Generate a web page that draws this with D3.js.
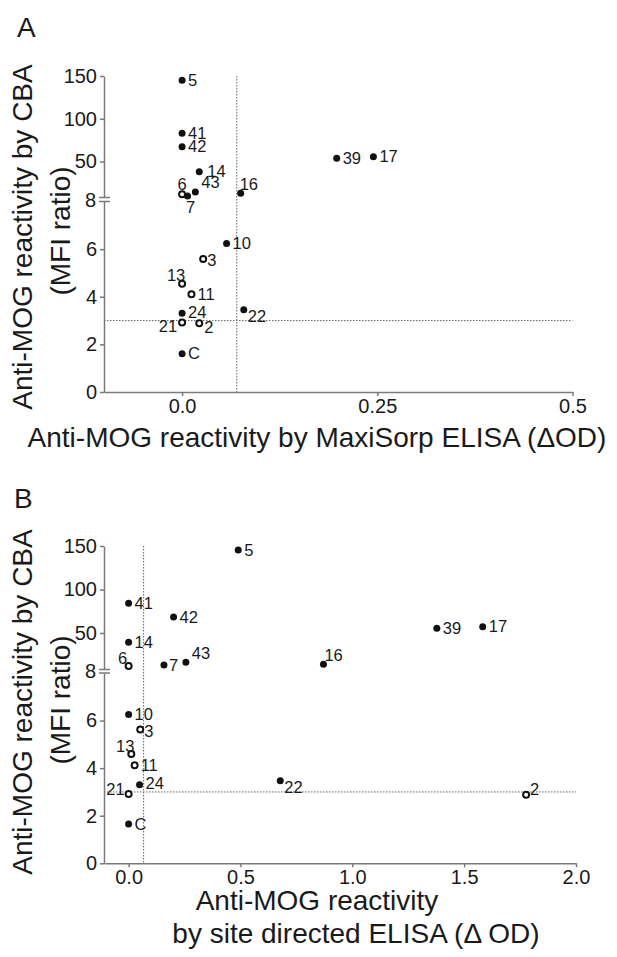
<!DOCTYPE html>
<html>
<head>
<meta charset="utf-8">
<script src="https://cdn.jsdelivr.net/npm/d3@7"></script>
<style>
  body { margin: 0; background: #fff; }
  text { font-family: "Liberation Sans", Arial, sans-serif; fill: #1a1a1a; }
</style>
</head>
<body>
<div id="chart"></div>
<script>
// samples (same order in every array)
var sampleIds = ['5', '41', '42', '14', '43', '6', '7', '16', '39', '17',
  '10', '3', '13', '11', '24', '21', '2', 'C', '22'];
// sera drawn with an open circle
var openSamples = ['6', '3', '13', '11', '21', '2'];

// panel A: MaxiSorp ELISA (dOD) vs CBA (MFI ratio)
var maxisorpOD = [0, 0, 0, 0.022, 0.017, 0, 0.007, 0.075, 0.198, 0.245,
  0.057, 0.027, 0, 0.012, 0, 0, 0.022, 0, 0.079];
var cbaRatioA = [145, 83, 67.4, 38.1, 14.4, 11.7, 9.8, 12.9, 53.8, 55.7,
  6.24, 5.59, 4.55, 4.11, 3.31, 2.92, 2.89, 1.61, 3.45];

// panel B: site directed ELISA (dOD) vs CBA (MFI ratio)
var siteDirectedOD = [0.49, 0, 0.201, 0, 0.256, 0, 0.158, 0.871, 1.378, 1.583,
  0, 0.052, 0.012, 0.027, 0.049, 0, 1.777, 0, 0.678];
var cbaRatioB = [145.4, 84.1, 68.4, 39.3, 16.3, 12, 13.2, 14, 55.4, 57.2,
  6.26, 5.62, 4.6, 4.12, 3.3, 2.91, 2.88, 1.65, 3.47];

// axis ticks
var yTicksLow = [0, 2, 4, 6];
var yTicksHigh = [50, 100, 150];
var xTicksA = [0, 0.25, 0.5];
var xTickLabelsA = ['0.0', '0.25', '0.5'];
var xTicksB = [0, 0.5, 1, 1.5, 2];

// cut-offs (dotted lines)
var cutoffCBA = 3;
var cutoffA = 0.07;
var cutoffB = 0.067;

// label placement [dx, dy, anchor]
var labelPosA = {
  '5': [6, 0, 'start'], '41': [6, 0, 'start'], '42': [6, 0, 'start'],
  '14': [8, -1, 'start'], '43': [6, -10, 'start'], '6': [0, -10, 'middle'],
  '7': [3, 11, 'middle'], '16': [-1, -9, 'start'], '39': [6, 0, 'start'],
  '17': [6, 0, 'start'], '10': [6, 0, 'start'], '3': [4, 1, 'start'],
  '13': [-6, -8, 'middle'], '11': [6, 0, 'start'], '24': [6, -1, 'start'],
  '21': [-5, 4, 'end'], '2': [5, 4, 'start'], 'C': [6, 0, 'start'],
  '22': [4, 6, 'start']
};
var labelPosB = {
  '5': [6, 0, 'start'], '41': [6, 0, 'start'], '42': [6, 0, 'start'],
  '14': [6, 0, 'start'], '43': [6, -9, 'start'], '6': [-6, -8, 'middle'],
  '7': [5, 0, 'start'], '16': [1, -9, 'start'], '39': [6, 0, 'start'],
  '17': [6, 0, 'start'], '10': [6, 0, 'start'], '3': [4, 2, 'start'],
  '13': [-6, -8, 'middle'], '11': [6, 0, 'start'], '24': [6, -2, 'start'],
  '21': [-4, -5, 'end'], '2': [4, -6, 'start'], 'C': [6, 0, 'start'],
  '22': [4, 6, 'start']
};

var W = 617, H = 957;
var svg = d3.select('#chart').append('svg')
  .attr('width', W)
  .attr('height', H);

var axisColor = '#7a7a7a';

function panel(opt) {
  var g = svg.append('g');

  // scales: broken y axis, 0-8 linear below the break, 8-150 linear above
  var x = d3.scaleLinear().domain(opt.xDomain).range([opt.left, opt.right]);
  var yLow = d3.scaleLinear().domain([0, 8]).range([opt.bottom, opt.breakBot]);
  var yHigh = d3.scaleLinear().domain([8, 150]).range([opt.breakTop, opt.top]);
  var y = function (v) { return v <= 8 ? yLow(v) : yHigh(v); };

  // panel letter
  g.append('text')
    .attr('x', opt.letterX)
    .attr('y', opt.letterY)
    .attr('font-size', 28)
    .text(opt.letter);

  // dotted cut-off lines
  g.append('line')
    .attr('x1', x(opt.cutoffX)).attr('x2', x(opt.cutoffX))
    .attr('y1', opt.top).attr('y2', opt.bottom)
    .attr('stroke', '#666').attr('stroke-width', 1)
    .attr('stroke-dasharray', '1.5,1.5');
  g.append('line')
    .attr('x1', opt.left).attr('x2', opt.right)
    .attr('y1', y(cutoffCBA)).attr('y2', y(cutoffCBA))
    .attr('stroke', '#666').attr('stroke-width', 1)
    .attr('stroke-dasharray', '1.5,1.5');

  // y axis, two pieces
  var ayLow = g.append('g')
    .attr('transform', 'translate(' + opt.left + ',0)')
    .call(d3.axisLeft(yLow).tickValues(yTicksLow).tickSize(4).tickSizeOuter(0));
  var ayHigh = g.append('g')
    .attr('transform', 'translate(' + opt.left + ',0)')
    .call(d3.axisLeft(yHigh).tickValues(yTicksHigh).tickSize(4).tickSizeOuter(0));
  [ayLow, ayHigh].forEach(function (a) {
    a.selectAll('path, line').attr('stroke', axisColor).attr('stroke-width', 1.5);
    a.selectAll('text').attr('font-size', 20).attr('fill', '#1a1a1a')
      .attr('font-family', '"Liberation Sans", Arial, sans-serif');
  });

  // break marks + "8"
  [opt.breakTop, opt.breakBot].forEach(function (by) {
    g.append('line')
      .attr('x1', opt.left - 5).attr('x2', opt.left + 6)
      .attr('y1', by).attr('y2', by)
      .attr('stroke', axisColor).attr('stroke-width', 1.5);
  });
  g.append('text')
    .attr('x', opt.left - 8)
    .attr('y', (opt.breakTop + opt.breakBot) / 2)
    .attr('dy', '0.35em')
    .attr('text-anchor', 'end')
    .attr('font-size', 20)
    .text('8');

  // x axis
  var ax = g.append('g')
    .attr('transform', 'translate(0,' + opt.bottom + ')')
    .call(d3.axisBottom(x).tickValues(opt.xTicks).tickSize(4).tickSizeOuter(0)
      .tickFormat(opt.xFormat));
  ax.selectAll('path, line').attr('stroke', axisColor).attr('stroke-width', 1.5);
  ax.selectAll('text').attr('font-size', 20).attr('fill', '#1a1a1a')
    .attr('font-family', '"Liberation Sans", Arial, sans-serif');

  // points
  var pts = sampleIds.map(function (id, i) {
    return { id: id, x: opt.xs[i], y: opt.ys[i], open: openSamples.indexOf(id) >= 0 };
  });
  g.selectAll('circle.pt')
    .data(pts)
    .enter()
    .append('circle')
    .attr('class', 'pt')
    .attr('cx', function (d) { return x(d.x); })
    .attr('cy', function (d) { return y(d.y); })
    .attr('r', function (d) { return d.open ? 3 : 3.5; })
    .attr('fill', function (d) { return d.open ? '#fff' : '#111'; })
    .attr('stroke', '#111')
    .attr('stroke-width', function (d) { return d.open ? 2 : 0; });

  g.selectAll('text.lbl')
    .data(pts)
    .enter()
    .append('text')
    .attr('class', 'lbl')
    .attr('x', function (d) { return x(d.x) + opt.labels[d.id][0]; })
    .attr('y', function (d) { return y(d.y) + opt.labels[d.id][1]; })
    .attr('dy', '0.35em')
    .attr('text-anchor', function (d) { return opt.labels[d.id][2]; })
    .attr('font-size', 16.5)
    .text(function (d) { return d.id; });

  // y title (two lines)
  g.append('text')
    .attr('transform', 'translate(' + 32 + ',' + opt.yTitle1 + ') rotate(-90)')
    .attr('text-anchor', 'middle')
    .attr('font-size', 28)
    .text('Anti-MOG reactivity by CBA');
  g.append('text')
    .attr('transform', 'translate(' + 70 + ',' + opt.yTitle2 + ') rotate(-90)')
    .attr('text-anchor', 'middle')
    .attr('font-size', 28)
    .text('(MFI ratio)');

  // x title
  opt.xTitle.forEach(function (t) {
    g.append('text')
      .attr('x', t[1])
      .attr('y', t[2])
      .attr('text-anchor', 'middle')
      .attr('font-size', 28)
      .text(t[0]);
  });
}

panel({
  letter: 'A', letterX: 17, letterY: 37,
  left: 104, right: 572.5, top: 76, breakTop: 197.5, breakBot: 201.5, bottom: 392,
  xDomain: [-0.1, 0.5], xTicks: xTicksA,
  xFormat: function (d, i) { return xTickLabelsA[i]; },
  xs: maxisorpOD, ys: cbaRatioA, labels: labelPosA, cutoffX: cutoffA,
  yTitle1: 237, yTitle2: 231,
  xTitle: [['Anti-MOG reactivity by MaxiSorp ELISA (\u0394OD)', 317, 447]]
});

panel({
  letter: 'B', letterX: 14, letterY: 508,
  left: 104, right: 576, top: 546, breakTop: 669.5, breakBot: 673, bottom: 863.3,
  xDomain: [-0.11, 2.0], xTicks: xTicksB,
  xFormat: d3.format('.1f'),
  xs: siteDirectedOD, ys: cbaRatioB, labels: labelPosB, cutoffX: cutoffB,
  yTitle1: 702, yTitle2: 700,
  xTitle: [['Anti-MOG reactivity', 317, 910],
    ['by site directed ELISA (\u0394 OD)', 356, 943]]
});
</script>
</body>
</html>
